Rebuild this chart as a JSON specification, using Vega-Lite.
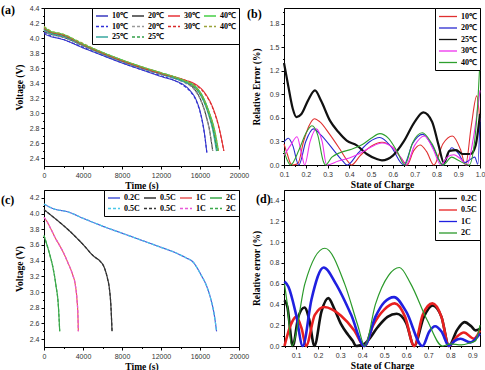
{
  "$schema": "https://vega.github.io/schema/vega-lite/v6.json",
  "padding": {"left": 0, "top": 3, "right": 0, "bottom": 1},
  "background": "white",
  "columns": 2,
  "spacing": {"row": 24, "column": 45},
  "bounds": "flush",
  "resolve": {
    "scale": {"color": "independent", "strokeDash": "independent", "x": "independent", "y": "independent"},
    "legend": {"color": "independent", "strokeDash": "independent"}
  },
  "config": {
    "view": {"stroke": "black", "strokeWidth": 1},
    "axis": {"grid": false, "domainColor": "black", "tickColor": "black", "tickSize": 3, "labelFont": "Liberation Sans", "labelFontSize": 7, "labelColor": "#333333", "labelPadding": 2, "titleFont": "Liberation Serif", "titleFontWeight": "bold", "titleFontSize": 9.5, "titleColor": "black", "labelFlush": false, "labelOverlap": false},
    "legend": {"orient": "top-right", "offset": 0, "symbolType": "M-3,0L1,0", "symbolOffset": 9, "labelFont": "Liberation Serif", "labelFontWeight": "bold", "labelFontSize": 8, "labelColor": "black", "strokeColor": "black", "fillColor": "white", "padding": 3, "rowPadding": 1.5, "columnPadding": 6, "symbolStrokeWidth": 1.3, "symbolSize": 81, "labelOffset": 3},
    "title": {"font": "Liberation Serif", "fontWeight": "bold", "fontSize": 12, "anchor": "start", "frame": "group", "baseline": "alphabetic", "color": "black"},
    "line": {"interpolate": "monotone", "clip": true}
  },
  "datasets": {
    "a": [
      {"s":"10℃ e","t":0,"v":4.06},{"s":"10℃ e","t":500,"v":4.03},{"s":"10℃ e","t":2000,"v":3.98},{"s":"10℃ e","t":4000,"v":3.87},{"s":"10℃ e","t":6000,"v":3.77},{"s":"10℃ e","t":8000,"v":3.67},{"s":"10℃ e","t":10000,"v":3.58},{"s":"10℃ e","t":12000,"v":3.49},{"s":"10℃ e","t":13500,"v":3.43},{"s":"10℃ e","t":14300,"v":3.38},{"s":"10℃ e","t":15000,"v":3.30},{"s":"10℃ e","t":15600,"v":3.18},{"s":"10℃ e","t":16100,"v":2.98},{"s":"10℃ e","t":16450,"v":2.74},{"s":"10℃ e","t":16700,"v":2.48},
      {"s":"10℃ m","t":0,"v":4.08},{"s":"10℃ m","t":500,"v":4.04},{"s":"10℃ m","t":2000,"v":3.98},{"s":"10℃ m","t":4000,"v":3.88},{"s":"10℃ m","t":6000,"v":3.77},{"s":"10℃ m","t":8000,"v":3.67},{"s":"10℃ m","t":10000,"v":3.58},{"s":"10℃ m","t":12000,"v":3.50},{"s":"10℃ m","t":13500,"v":3.43},{"s":"10℃ m","t":14300,"v":3.37},{"s":"10℃ m","t":15000,"v":3.29},{"s":"10℃ m","t":15600,"v":3.17},{"s":"10℃ m","t":16100,"v":2.97},{"s":"10℃ m","t":16450,"v":2.73},{"s":"10℃ m","t":16700,"v":2.48},
      {"s":"20℃ e","t":0,"v":4.09},{"s":"20℃ e","t":500,"v":4.06},{"s":"20℃ e","t":2000,"v":4.01},{"s":"20℃ e","t":4000,"v":3.90},{"s":"20℃ e","t":6000,"v":3.79},{"s":"20℃ e","t":8000,"v":3.69},{"s":"20℃ e","t":10000,"v":3.60},{"s":"20℃ e","t":12000,"v":3.52},{"s":"20℃ e","t":13500,"v":3.46},{"s":"20℃ e","t":14500,"v":3.41},{"s":"20℃ e","t":15300,"v":3.34},{"s":"20℃ e","t":16000,"v":3.20},{"s":"20℃ e","t":16600,"v":2.98},{"s":"20℃ e","t":17000,"v":2.76},{"s":"20℃ e","t":17300,"v":2.50},
      {"s":"20℃ m","t":0,"v":4.10},{"s":"20℃ m","t":500,"v":4.06},{"s":"20℃ m","t":2000,"v":4.01},{"s":"20℃ m","t":4000,"v":3.90},{"s":"20℃ m","t":6000,"v":3.79},{"s":"20℃ m","t":8000,"v":3.69},{"s":"20℃ m","t":10000,"v":3.60},{"s":"20℃ m","t":12000,"v":3.52},{"s":"20℃ m","t":13500,"v":3.46},{"s":"20℃ m","t":14500,"v":3.40},{"s":"20℃ m","t":15300,"v":3.33},{"s":"20℃ m","t":16000,"v":3.19},{"s":"20℃ m","t":16600,"v":2.97},{"s":"20℃ m","t":17000,"v":2.75},{"s":"20℃ m","t":17300,"v":2.50},
      {"s":"25℃ e","t":0,"v":4.12},{"s":"25℃ e","t":500,"v":4.08},{"s":"25℃ e","t":2000,"v":4.03},{"s":"25℃ e","t":4000,"v":3.91},{"s":"25℃ e","t":6000,"v":3.80},{"s":"25℃ e","t":8000,"v":3.70},{"s":"25℃ e","t":10000,"v":3.61},{"s":"25℃ e","t":12000,"v":3.53},{"s":"25℃ e","t":13500,"v":3.47},{"s":"25℃ e","t":14500,"v":3.42},{"s":"25℃ e","t":15500,"v":3.35},{"s":"25℃ e","t":16300,"v":3.20},{"s":"25℃ e","t":16900,"v":3.00},{"s":"25℃ e","t":17400,"v":2.76},{"s":"25℃ e","t":17750,"v":2.50},
      {"s":"25℃ m","t":0,"v":4.13},{"s":"25℃ m","t":500,"v":4.08},{"s":"25℃ m","t":2000,"v":4.03},{"s":"25℃ m","t":4000,"v":3.91},{"s":"25℃ m","t":6000,"v":3.80},{"s":"25℃ m","t":8000,"v":3.70},{"s":"25℃ m","t":10000,"v":3.61},{"s":"25℃ m","t":12000,"v":3.53},{"s":"25℃ m","t":13500,"v":3.47},{"s":"25℃ m","t":14500,"v":3.42},{"s":"25℃ m","t":15500,"v":3.34},{"s":"25℃ m","t":16300,"v":3.19},{"s":"25℃ m","t":16900,"v":2.99},{"s":"25℃ m","t":17400,"v":2.75},{"s":"25℃ m","t":17750,"v":2.50},
      {"s":"30℃ e","t":0,"v":4.13},{"s":"30℃ e","t":500,"v":4.09},{"s":"30℃ e","t":2000,"v":4.04},{"s":"30℃ e","t":4000,"v":3.91},{"s":"30℃ e","t":6000,"v":3.80},{"s":"30℃ e","t":8000,"v":3.70},{"s":"30℃ e","t":10000,"v":3.61},{"s":"30℃ e","t":12000,"v":3.53},{"s":"30℃ e","t":13500,"v":3.48},{"s":"30℃ e","t":14500,"v":3.44},{"s":"30℃ e","t":15500,"v":3.39},{"s":"30℃ e","t":16500,"v":3.27},{"s":"30℃ e","t":17300,"v":3.08},{"s":"30℃ e","t":17900,"v":2.84},{"s":"30℃ e","t":18450,"v":2.50},
      {"s":"30℃ m","t":0,"v":4.14},{"s":"30℃ m","t":500,"v":4.10},{"s":"30℃ m","t":2000,"v":4.04},{"s":"30℃ m","t":4000,"v":3.92},{"s":"30℃ m","t":6000,"v":3.80},{"s":"30℃ m","t":8000,"v":3.70},{"s":"30℃ m","t":10000,"v":3.61},{"s":"30℃ m","t":12000,"v":3.53},{"s":"30℃ m","t":13500,"v":3.48},{"s":"30℃ m","t":14500,"v":3.44},{"s":"30℃ m","t":15500,"v":3.38},{"s":"30℃ m","t":16500,"v":3.26},{"s":"30℃ m","t":17300,"v":3.07},{"s":"30℃ m","t":17900,"v":2.83},{"s":"30℃ m","t":18450,"v":2.50},
      {"s":"40℃ e","t":0,"v":4.15},{"s":"40℃ e","t":500,"v":4.10},{"s":"40℃ e","t":2000,"v":4.05},{"s":"40℃ e","t":4000,"v":3.92},{"s":"40℃ e","t":6000,"v":3.81},{"s":"40℃ e","t":8000,"v":3.71},{"s":"40℃ e","t":10000,"v":3.62},{"s":"40℃ e","t":12000,"v":3.54},{"s":"40℃ e","t":13500,"v":3.48},{"s":"40℃ e","t":14500,"v":3.43},{"s":"40℃ e","t":15500,"v":3.36},{"s":"40℃ e","t":16300,"v":3.22},{"s":"40℃ e","t":16900,"v":3.03},{"s":"40℃ e","t":17500,"v":2.78},{"s":"40℃ e","t":17900,"v":2.50},
      {"s":"40℃ m","t":0,"v":4.16},{"s":"40℃ m","t":500,"v":4.11},{"s":"40℃ m","t":2000,"v":4.05},{"s":"40℃ m","t":4000,"v":3.93},{"s":"40℃ m","t":6000,"v":3.81},{"s":"40℃ m","t":8000,"v":3.71},{"s":"40℃ m","t":10000,"v":3.62},{"s":"40℃ m","t":12000,"v":3.54},{"s":"40℃ m","t":13500,"v":3.48},{"s":"40℃ m","t":14500,"v":3.43},{"s":"40℃ m","t":15500,"v":3.35},{"s":"40℃ m","t":16300,"v":3.21},{"s":"40℃ m","t":16900,"v":3.02},{"s":"40℃ m","t":17500,"v":2.77},{"s":"40℃ m","t":17900,"v":2.50}
    ],
    "b": [
      {"s":"10℃","x":0.1,"y":0.27},{"s":"10℃","x":0.115,"y":0.14},{"s":"10℃","x":0.13,"y":0.02},{"s":"10℃","x":0.14,"y":0},{"s":"10℃","x":0.164,"y":0.02},{"s":"10℃","x":0.19,"y":0.3},{"s":"10℃","x":0.215,"y":0.5},{"s":"10℃","x":0.24,"y":0.59},{"s":"10℃","x":0.265,"y":0.55},{"s":"10℃","x":0.31,"y":0.39},{"s":"10℃","x":0.357,"y":0.2},{"s":"10℃","x":0.395,"y":0.04},{"s":"10℃","x":0.41,"y":0},{"s":"10℃","x":0.45,"y":0.12},{"s":"10℃","x":0.5,"y":0.24},{"s":"10℃","x":0.55,"y":0.29},{"s":"10℃","x":0.6,"y":0.22},{"s":"10℃","x":0.64,"y":0.08},{"s":"10℃","x":0.665,"y":0},{"s":"10℃","x":0.695,"y":0.18},{"s":"10℃","x":0.725,"y":0.255},{"s":"10℃","x":0.755,"y":0.17},{"s":"10℃","x":0.788,"y":0},{"s":"10℃","x":0.83,"y":0.27},{"s":"10℃","x":0.873,"y":0.37},{"s":"10℃","x":0.91,"y":0.2},{"s":"10℃","x":0.934,"y":0},{"s":"10℃","x":0.96,"y":0.5},{"s":"10℃","x":0.985,"y":0.88},{"s":"10℃","x":1.0,"y":0.55},
      {"s":"20℃","x":0.1,"y":0.29},{"s":"20℃","x":0.12,"y":0.34},{"s":"20℃","x":0.14,"y":0.25},{"s":"20℃","x":0.168,"y":0},{"s":"20℃","x":0.2,"y":0.3},{"s":"20℃","x":0.235,"y":0.46},{"s":"20℃","x":0.27,"y":0.38},{"s":"20℃","x":0.325,"y":0.2},{"s":"20℃","x":0.37,"y":0.05},{"s":"20℃","x":0.39,"y":0},{"s":"20℃","x":0.44,"y":0.15},{"s":"20℃","x":0.49,"y":0.29},{"s":"20℃","x":0.54,"y":0.35},{"s":"20℃","x":0.59,"y":0.24},{"s":"20℃","x":0.65,"y":0},{"s":"20℃","x":0.69,"y":0.27},{"s":"20℃","x":0.737,"y":0.39},{"s":"20℃","x":0.78,"y":0.25},{"s":"20℃","x":0.83,"y":0},{"s":"20℃","x":0.87,"y":0.22},{"s":"20℃","x":0.9,"y":0.15},{"s":"20℃","x":0.93,"y":0.03},{"s":"20℃","x":0.96,"y":0.08},{"s":"20℃","x":0.976,"y":0.1},{"s":"20℃","x":0.99,"y":0.01},{"s":"20℃","x":1.0,"y":0.6},
      {"s":"25℃","x":0.1,"y":1.3},{"s":"25℃","x":0.12,"y":1.0},{"s":"25℃","x":0.14,"y":0.72},{"s":"25℃","x":0.157,"y":0.61},{"s":"25℃","x":0.18,"y":0.65},{"s":"25℃","x":0.21,"y":0.82},{"s":"25℃","x":0.242,"y":0.95},{"s":"25℃","x":0.27,"y":0.82},{"s":"25℃","x":0.311,"y":0.565},{"s":"25℃","x":0.35,"y":0.42},{"s":"25℃","x":0.388,"y":0.31},{"s":"25℃","x":0.434,"y":0.25},{"s":"25℃","x":0.48,"y":0.14},{"s":"25℃","x":0.526,"y":0.076},{"s":"25℃","x":0.55,"y":0.06},{"s":"25℃","x":0.6,"y":0.12},{"s":"25℃","x":0.65,"y":0.3},{"s":"25℃","x":0.7,"y":0.55},{"s":"25℃","x":0.74,"y":0.67},{"s":"25℃","x":0.78,"y":0.55},{"s":"25℃","x":0.81,"y":0.25},{"s":"25℃","x":0.834,"y":0.03},{"s":"25℃","x":0.86,"y":0.18},{"s":"25℃","x":0.89,"y":0.19},{"s":"25℃","x":0.92,"y":0.14},{"s":"25℃","x":0.957,"y":0.14},{"s":"25℃","x":0.98,"y":0.25},{"s":"25℃","x":1.0,"y":0.65},
      {"s":"30℃","x":0.1,"y":0.12},{"s":"30℃","x":0.13,"y":0.25},{"s":"30℃","x":0.16,"y":0.36},{"s":"30℃","x":0.18,"y":0.15},{"s":"30℃","x":0.195,"y":0},{"s":"30℃","x":0.22,"y":0.3},{"s":"30℃","x":0.248,"y":0.46},{"s":"30℃","x":0.275,"y":0.3},{"s":"30℃","x":0.296,"y":0},{"s":"30℃","x":0.35,"y":0.05},{"s":"30℃","x":0.4,"y":0.09},{"s":"30℃","x":0.45,"y":0.15},{"s":"30℃","x":0.5,"y":0.23},{"s":"30℃","x":0.55,"y":0.28},{"s":"30℃","x":0.6,"y":0.22},{"s":"30℃","x":0.635,"y":0.1},{"s":"30℃","x":0.66,"y":0},{"s":"30℃","x":0.7,"y":0.25},{"s":"30℃","x":0.745,"y":0.37},{"s":"30℃","x":0.785,"y":0.2},{"s":"30℃","x":0.82,"y":0},{"s":"30℃","x":0.85,"y":0.1},{"s":"30℃","x":0.88,"y":0.13},{"s":"30℃","x":0.91,"y":0.08},{"s":"30℃","x":0.94,"y":0},{"s":"30℃","x":0.97,"y":0.35},{"s":"30℃","x":1.0,"y":0.95},
      {"s":"40℃","x":0.1,"y":0.18},{"s":"40℃","x":0.115,"y":0.06},{"s":"40℃","x":0.13,"y":0},{"s":"40℃","x":0.17,"y":0.2},{"s":"40℃","x":0.2,"y":0.4},{"s":"40℃","x":0.228,"y":0.5},{"s":"40℃","x":0.255,"y":0.38},{"s":"40℃","x":0.28,"y":0.05},{"s":"40℃","x":0.29,"y":0},{"s":"40℃","x":0.32,"y":0.1},{"s":"40℃","x":0.36,"y":0.16},{"s":"40℃","x":0.41,"y":0.2},{"s":"40℃","x":0.46,"y":0.26},{"s":"40℃","x":0.5,"y":0.34},{"s":"40℃","x":0.54,"y":0.4},{"s":"40℃","x":0.58,"y":0.34},{"s":"40℃","x":0.62,"y":0.17},{"s":"40℃","x":0.655,"y":0},{"s":"40℃","x":0.69,"y":0.28},{"s":"40℃","x":0.735,"y":0.41},{"s":"40℃","x":0.78,"y":0.27},{"s":"40℃","x":0.83,"y":0},{"s":"40℃","x":0.87,"y":0.1},{"s":"40℃","x":0.9,"y":0.06},{"s":"40℃","x":0.95,"y":0},{"s":"40℃","x":0.975,"y":0.3},{"s":"40℃","x":0.99,"y":0.8},{"s":"40℃","x":1.0,"y":1.33}
    ],
    "c": [
      {"s":"0.2C e","t":0,"v":4.12},{"s":"0.2C e","t":1000,"v":4.06},{"s":"0.2C e","t":2500,"v":4.02},{"s":"0.2C e","t":4000,"v":3.94},{"s":"0.2C e","t":6000,"v":3.84},{"s":"0.2C e","t":8000,"v":3.75},{"s":"0.2C e","t":10000,"v":3.66},{"s":"0.2C e","t":12000,"v":3.57},{"s":"0.2C e","t":13500,"v":3.50},{"s":"0.2C e","t":14500,"v":3.44},{"s":"0.2C e","t":15300,"v":3.38},{"s":"0.2C e","t":16100,"v":3.22},{"s":"0.2C e","t":16700,"v":3.07},{"s":"0.2C e","t":17130,"v":2.90},{"s":"0.2C e","t":17450,"v":2.72},{"s":"0.2C e","t":17700,"v":2.50},
      {"s":"0.2C m","t":0,"v":4.12},{"s":"0.2C m","t":1000,"v":4.06},{"s":"0.2C m","t":2500,"v":4.02},{"s":"0.2C m","t":4000,"v":3.94},{"s":"0.2C m","t":6000,"v":3.84},{"s":"0.2C m","t":8000,"v":3.75},{"s":"0.2C m","t":10000,"v":3.66},{"s":"0.2C m","t":12000,"v":3.57},{"s":"0.2C m","t":13500,"v":3.50},{"s":"0.2C m","t":14500,"v":3.44},{"s":"0.2C m","t":15300,"v":3.38},{"s":"0.2C m","t":16100,"v":3.22},{"s":"0.2C m","t":16700,"v":3.07},{"s":"0.2C m","t":17130,"v":2.90},{"s":"0.2C m","t":17450,"v":2.72},{"s":"0.2C m","t":17700,"v":2.50},
      {"s":"0.5C e","t":0,"v":4.05},{"s":"0.5C e","t":500,"v":4.00},{"s":"0.5C e","t":1200,"v":3.93},{"s":"0.5C e","t":2430,"v":3.80},{"s":"0.5C e","t":3900,"v":3.62},{"s":"0.5C e","t":5160,"v":3.45},{"s":"0.5C e","t":5700,"v":3.40},{"s":"0.5C e","t":6190,"v":3.31},{"s":"0.5C e","t":6500,"v":3.18},{"s":"0.5C e","t":6700,"v":3.05},{"s":"0.5C e","t":6850,"v":2.85},{"s":"0.5C e","t":6980,"v":2.50},
      {"s":"0.5C m","t":0,"v":4.05},{"s":"0.5C m","t":500,"v":4.00},{"s":"0.5C m","t":1200,"v":3.93},{"s":"0.5C m","t":2430,"v":3.80},{"s":"0.5C m","t":3900,"v":3.62},{"s":"0.5C m","t":5160,"v":3.45},{"s":"0.5C m","t":5700,"v":3.40},{"s":"0.5C m","t":6190,"v":3.31},{"s":"0.5C m","t":6500,"v":3.18},{"s":"0.5C m","t":6700,"v":3.05},{"s":"0.5C m","t":6850,"v":2.85},{"s":"0.5C m","t":6980,"v":2.50},
      {"s":"1C e","t":0,"v":3.95},{"s":"1C e","t":300,"v":3.90},{"s":"1C e","t":720,"v":3.80},{"s":"1C e","t":1200,"v":3.68},{"s":"1C e","t":1570,"v":3.60},{"s":"1C e","t":2000,"v":3.50},{"s":"1C e","t":2430,"v":3.38},{"s":"1C e","t":2940,"v":3.22},{"s":"1C e","t":3200,"v":3.10},{"s":"1C e","t":3385,"v":2.90},{"s":"1C e","t":3480,"v":2.70},{"s":"1C e","t":3520,"v":2.50},
      {"s":"1C m","t":0,"v":3.95},{"s":"1C m","t":300,"v":3.90},{"s":"1C m","t":720,"v":3.80},{"s":"1C m","t":1200,"v":3.68},{"s":"1C m","t":1570,"v":3.60},{"s":"1C m","t":2000,"v":3.50},{"s":"1C m","t":2430,"v":3.38},{"s":"1C m","t":2940,"v":3.22},{"s":"1C m","t":3200,"v":3.10},{"s":"1C m","t":3385,"v":2.90},{"s":"1C m","t":3480,"v":2.70},{"s":"1C m","t":3520,"v":2.50},
      {"s":"2C e","t":0,"v":3.72},{"s":"2C e","t":150,"v":3.66},{"s":"2C e","t":380,"v":3.57},{"s":"2C e","t":650,"v":3.45},{"s":"2C e","t":890,"v":3.33},{"s":"2C e","t":1230,"v":3.08},{"s":"2C e","t":1470,"v":2.83},{"s":"2C e","t":1610,"v":2.50},
      {"s":"2C m","t":0,"v":3.72},{"s":"2C m","t":150,"v":3.66},{"s":"2C m","t":380,"v":3.57},{"s":"2C m","t":650,"v":3.45},{"s":"2C m","t":890,"v":3.33},{"s":"2C m","t":1230,"v":3.08},{"s":"2C m","t":1470,"v":2.83},{"s":"2C m","t":1610,"v":2.50}
    ],
    "d": [
      {"s":"0.2C","x":0.047,"y":0.44},{"s":"0.2C","x":0.06,"y":0.38},{"s":"0.2C","x":0.085,"y":0},{"s":"0.2C","x":0.11,"y":0.28},{"s":"0.2C","x":0.138,"y":0.37},{"s":"0.2C","x":0.16,"y":0.25},{"s":"0.2C","x":0.183,"y":0},{"s":"0.2C","x":0.215,"y":0.33},{"s":"0.2C","x":0.246,"y":0.46},{"s":"0.2C","x":0.275,"y":0.35},{"s":"0.2C","x":0.304,"y":0.21},{"s":"0.2C","x":0.335,"y":0.11},{"s":"0.2C","x":0.357,"y":0.05},{"s":"0.2C","x":0.372,"y":0},{"s":"0.2C","x":0.395,"y":0.01},{"s":"0.2C","x":0.41,"y":0.02},{"s":"0.2C","x":0.425,"y":0.05},{"s":"0.2C","x":0.47,"y":0.18},{"s":"0.2C","x":0.515,"y":0.28},{"s":"0.2C","x":0.557,"y":0.31},{"s":"0.2C","x":0.6,"y":0.22},{"s":"0.2C","x":0.636,"y":0},{"s":"0.2C","x":0.68,"y":0.28},{"s":"0.2C","x":0.72,"y":0.39},{"s":"0.2C","x":0.76,"y":0.28},{"s":"0.2C","x":0.794,"y":0},{"s":"0.2C","x":0.83,"y":0.15},{"s":"0.2C","x":0.865,"y":0.23},{"s":"0.2C","x":0.895,"y":0.19},{"s":"0.2C","x":0.915,"y":0.15},{"s":"0.2C","x":0.935,"y":0.165},
      {"s":"0.5C","x":0.047,"y":0},{"s":"0.5C","x":0.075,"y":0.2},{"s":"0.5C","x":0.1,"y":0.28},{"s":"0.5C","x":0.125,"y":0.17},{"s":"0.5C","x":0.145,"y":0},{"s":"0.5C","x":0.185,"y":0.3},{"s":"0.5C","x":0.228,"y":0.375},{"s":"0.5C","x":0.265,"y":0.35},{"s":"0.5C","x":0.304,"y":0.29},{"s":"0.5C","x":0.364,"y":0.15},{"s":"0.5C","x":0.41,"y":0},{"s":"0.5C","x":0.45,"y":0.2},{"s":"0.5C","x":0.5,"y":0.35},{"s":"0.5C","x":0.548,"y":0.41},{"s":"0.5C","x":0.595,"y":0.28},{"s":"0.5C","x":0.636,"y":0},{"s":"0.5C","x":0.675,"y":0.3},{"s":"0.5C","x":0.719,"y":0.41},{"s":"0.5C","x":0.76,"y":0.28},{"s":"0.5C","x":0.794,"y":0},{"s":"0.5C","x":0.83,"y":0.09},{"s":"0.5C","x":0.862,"y":0.13},{"s":"0.5C","x":0.908,"y":0.07},{"s":"0.5C","x":0.935,"y":0.15},
      {"s":"1C","x":0.047,"y":0.62},{"s":"1C","x":0.065,"y":0.57},{"s":"1C","x":0.1,"y":0.3},{"s":"1C","x":0.13,"y":0},{"s":"1C","x":0.17,"y":0.45},{"s":"1C","x":0.225,"y":0.755},{"s":"1C","x":0.28,"y":0.6},{"s":"1C","x":0.35,"y":0.3},{"s":"1C","x":0.41,"y":0},{"s":"1C","x":0.46,"y":0.28},{"s":"1C","x":0.5,"y":0.42},{"s":"1C","x":0.545,"y":0.47},{"s":"1C","x":0.6,"y":0.33},{"s":"1C","x":0.674,"y":0},{"s":"1C","x":0.705,"y":0.14},{"s":"1C","x":0.731,"y":0.19},{"s":"1C","x":0.76,"y":0.14},{"s":"1C","x":0.794,"y":0},{"s":"1C","x":0.82,"y":0.05},{"s":"1C","x":0.847,"y":0.07},{"s":"1C","x":0.892,"y":0.035},{"s":"1C","x":0.935,"y":0.12},
      {"s":"2C","x":0.047,"y":0.6},{"s":"2C","x":0.06,"y":0.4},{"s":"2C","x":0.08,"y":0},{"s":"2C","x":0.14,"y":0.6},{"s":"2C","x":0.231,"y":0.94},{"s":"2C","x":0.32,"y":0.6},{"s":"2C","x":0.38,"y":0.2},{"s":"2C","x":0.412,"y":0},{"s":"2C","x":0.46,"y":0.4},{"s":"2C","x":0.52,"y":0.68},{"s":"2C","x":0.569,"y":0.755},{"s":"2C","x":0.62,"y":0.6},{"s":"2C","x":0.696,"y":0.245},{"s":"2C","x":0.764,"y":0},{"s":"2C","x":0.8,"y":0.02},{"s":"2C","x":0.85,"y":0.01},{"s":"2C","x":0.89,"y":0.03},{"s":"2C","x":0.915,"y":0.05},{"s":"2C","x":0.935,"y":0.2}
    ]
  },
  "concat": [
    {
      "width": 195, "height": 158,
      "title": {"text": "(a)", "dx": -43, "offset": -12.5},
      "data": {"name": "a"},
      "mark": {"type": "line"},
      "encoding": {
        "x": {"field": "t", "type": "quantitative", "scale": {"domain": [0, 20000], "nice": false}, "axis": {"values": [0, 2000, 4000, 6000, 8000, 10000, 12000, 14000, 16000, 18000, 20000], "format": "d", "labelExpr": "datum.value % 4000 === 0 ? datum.label : ''", "tickSize": {"condition": {"test": "datum.value % 4000 === 0", "value": 3}, "value": 1.5}, "title": "Time (s)", "titlePadding": 2}},
        "y": {"field": "v", "type": "quantitative", "scale": {"domain": [2.3, 4.4], "nice": false, "zero": false}, "axis": {"values": [2.4, 2.5, 2.6, 2.7, 2.8, 2.9, 3.0, 3.1, 3.2, 3.3, 3.4, 3.5, 3.6, 3.7, 3.8, 3.9, 4.0, 4.1, 4.2, 4.3, 4.4], "format": ".1f", "labelExpr": "round(datum.value * 10) % 2 === 0 ? datum.label : ''", "tickSize": {"condition": {"test": "round(datum.value * 10) % 2 === 0", "value": 3}, "value": 1.5}, "title": "Voltage (V)", "titlePadding": 5}},
        "color": {"field": "s", "type": "nominal", "scale": {"domain": ["10℃ e", "20℃ e", "30℃ e", "40℃ e", "10℃ m", "20℃ m", "30℃ m", "40℃ m", "25℃ e", "25℃ m"], "range": ["#3a3ac0", "#3a3a3a", "#e8343a", "#46d046", "#3030d8", "#9a9a9a", "#d82a2a", "#9aa33a", "#3aa8a0", "#35a04a"]}, "legend": {"title": null, "direction": "horizontal", "columns": 4, "labelExpr": "split(datum.label, ' ')[0]", "symbolType": "M-2,0L1,0", "symbolSize": 64, "symbolOffset": 4, "columnPadding": 1, "rowPadding": 1.5}},
        "strokeDash": {"field": "s", "type": "nominal", "scale": {"domain": ["10℃ e", "20℃ e", "30℃ e", "40℃ e", "10℃ m", "20℃ m", "30℃ m", "40℃ m", "25℃ e", "25℃ m"], "range": [[1, 0], [1, 0], [1, 0], [1, 0], [3, 2], [3, 2], [3, 2], [3, 2], [1, 0], [3, 2]]}, "legend": {"title": null}},
        "strokeWidth": {"condition": {"test": "datum.s === '25℃ e'", "value": 2.4}, "value": 1.1}
      }
    },
    {
      "width": 196, "height": 157,
      "title": {"text": "(b)", "dx": -37, "offset": -13},
      "data": {"name": "b"},
      "mark": {"type": "line"},
      "encoding": {
        "x": {"field": "x", "type": "quantitative", "scale": {"domain": [0.1, 1.0], "nice": false, "zero": false}, "axis": {"values": [0.1, 0.15, 0.2, 0.25, 0.3, 0.35, 0.4, 0.45, 0.5, 0.55, 0.6, 0.65, 0.7, 0.75, 0.8, 0.85, 0.9, 0.95, 1.0], "format": ".1f", "labelExpr": "abs(datum.value * 10 - round(datum.value * 10)) < 0.01 ? datum.label : ''", "tickSize": {"condition": {"test": "abs(datum.value * 10 - round(datum.value * 10)) < 0.01", "value": 3}, "value": 1.5}, "title": "State of Charge", "titlePadding": 2}},
        "y": {"field": "y", "type": "quantitative", "scale": {"domain": [0, 2.0], "nice": false}, "axis": {"values": [0, 0.15, 0.3, 0.45, 0.6, 0.75, 0.9, 1.05, 1.2, 1.35, 1.5, 1.65, 1.8, 1.95], "format": ".1f", "labelExpr": "round(datum.value * 100) % 30 === 0 ? datum.label : ''", "tickSize": {"condition": {"test": "round(datum.value * 100) % 30 === 0", "value": 3}, "value": 1.5}, "title": "Relative Error (%)", "titlePadding": 8}},
        "color": {"field": "s", "type": "nominal", "scale": {"domain": ["10℃", "20℃", "25℃", "30℃", "40℃"], "range": ["#e03030", "#2a2ad0", "#111111", "#ee30ee", "#2ea02e"]}, "legend": {"title": null}},
        "strokeWidth": {"condition": {"test": "datum.s === '25℃'", "value": 2.2}, "value": 1.1}
      }
    },
    {
      "width": 195, "height": 157,
      "title": {"text": "(c)", "dx": -43, "offset": -17},
      "data": {"name": "c"},
      "mark": {"type": "line"},
      "encoding": {
        "x": {"field": "t", "type": "quantitative", "scale": {"domain": [0, 20000], "nice": false}, "axis": {"values": [0, 2000, 4000, 6000, 8000, 10000, 12000, 14000, 16000, 18000, 20000], "format": "d", "labelExpr": "datum.value % 4000 === 0 ? datum.label : ''", "tickSize": {"condition": {"test": "datum.value % 4000 === 0", "value": 3}, "value": 1.5}, "title": "Time (s)", "titlePadding": 2}},
        "y": {"field": "v", "type": "quantitative", "scale": {"domain": [2.3, 4.3], "nice": false, "zero": false}, "axis": {"values": [2.4, 2.5, 2.6, 2.7, 2.8, 2.9, 3.0, 3.1, 3.2, 3.3, 3.4, 3.5, 3.6, 3.7, 3.8, 3.9, 4.0, 4.1, 4.2], "format": ".1f", "labelExpr": "round(datum.value * 10) % 2 === 0 ? datum.label : ''", "tickSize": {"condition": {"test": "round(datum.value * 10) % 2 === 0", "value": 3}, "value": 1.5}, "title": "Voltage (V)", "titlePadding": 5}},
        "color": {"field": "s", "type": "nominal", "scale": {"domain": ["0.2C e", "0.5C e", "1C e", "2C e", "0.2C m", "0.5C m", "1C m", "2C m"], "range": ["#4a5ad8", "#333333", "#e85a5a", "#3aa84a", "#4ac8e8", "#333333", "#e858d8", "#3aa84a"]}, "legend": {"title": null, "direction": "horizontal", "columns": 4, "labelExpr": "datum.label === '0.2C m' ? '0.5C' : split(datum.label, ' ')[0]", "symbolType": "M-2,0L1,0", "symbolSize": 64, "symbolOffset": 4, "columnPadding": 1, "rowPadding": 1.5}},
        "strokeDash": {"field": "s", "type": "nominal", "scale": {"domain": ["0.2C e", "0.5C e", "1C e", "2C e", "0.2C m", "0.5C m", "1C m", "2C m"], "range": [[1, 0], [1, 0], [1, 0], [1, 0], [3, 2], [3, 2], [3, 2], [3, 2]]}, "legend": {"title": null}},
        "strokeWidth": {"value": 1.2}
      }
    },
    {
      "width": 196, "height": 156,
      "title": {"text": "(d)", "dx": -28, "offset": -16},
      "data": {"name": "d"},
      "mark": {"type": "line"},
      "encoding": {
        "x": {"field": "x", "type": "quantitative", "scale": {"domain": [0.045, 0.935], "nice": false, "zero": false}, "axis": {"values": [0.05, 0.1, 0.15, 0.2, 0.25, 0.3, 0.35, 0.4, 0.45, 0.5, 0.55, 0.6, 0.65, 0.7, 0.75, 0.8, 0.85, 0.9], "format": ".1f", "labelExpr": "abs(datum.value * 10 - round(datum.value * 10)) < 0.01 ? datum.label : ''", "tickSize": {"condition": {"test": "abs(datum.value * 10 - round(datum.value * 10)) < 0.01", "value": 3}, "value": 1.5}, "title": "State of Charge", "titlePadding": 2}},
        "y": {"field": "y", "type": "quantitative", "scale": {"domain": [0, 1.5], "nice": false}, "axis": {"values": [0, 0.1, 0.2, 0.3, 0.4, 0.5, 0.6, 0.7, 0.8, 0.9, 1.0, 1.1, 1.2, 1.3, 1.4], "format": ".1f", "labelExpr": "round(datum.value * 10) % 2 === 0 ? datum.label : ''", "tickSize": {"condition": {"test": "round(datum.value * 10) % 2 === 0", "value": 3}, "value": 1.5}, "title": "Relative error (%)", "titlePadding": 8}},
        "color": {"field": "s", "type": "nominal", "scale": {"domain": ["0.2C", "0.5C", "1C", "2C"], "range": ["#111111", "#e82020", "#2020e0", "#2a9a2a"]}, "legend": {"title": null}},
        "strokeWidth": {"condition": {"test": "datum.s === '2C'", "value": 1.2}, "value": 2.6}
      }
    }
  ]
}
